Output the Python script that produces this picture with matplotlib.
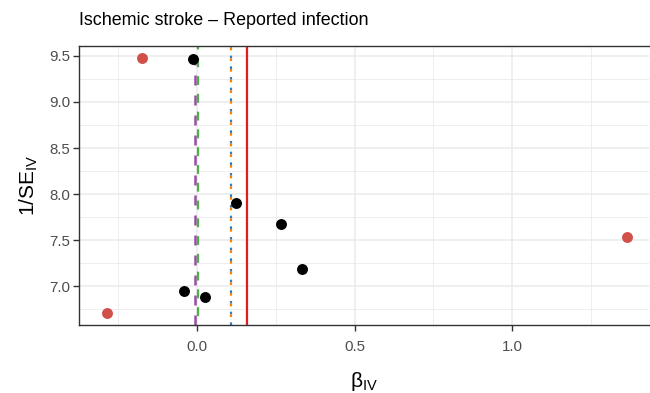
import numpy as np
import matplotlib
matplotlib.use("Agg")
from matplotlib import pyplot as plt
from matplotlib.ticker import MultipleLocator, FormatStrFormatter

plt.rcParams['font.family'] = ['Liberation Sans', 'DejaVu Sans']
plt.rcParams['mathtext.fontset'] = 'custom'
plt.rcParams['mathtext.rm'] = 'Liberation Sans'

# SNP estimates
beta_black = [-0.013, 0.123, 0.266, 0.332, -0.041, 0.025]
inv_se_black = [9.46, 7.90, 7.68, 7.185, 6.95, 6.89]
# outliers
beta_red = [-0.174, -0.285, 1.364]
inv_se_red = [9.48, 6.71, 7.54]

# method estimates (vertical lines)
est_ivw = 0.158
est_dotted = 0.108
est_purple = -0.006
est_green = 0.003

title = "Ischemic stroke \u2013 Reported infection"

fig = plt.figure(figsize=(6.5, 3.93), dpi=100)
ax = fig.add_axes([0.1215, 0.1743, 0.8775, 0.7097])

ax.set_xlim(-0.373, 1.434)
ax.set_ylim(6.587, 9.61)

ax.xaxis.set_major_locator(MultipleLocator(0.5))
ax.xaxis.set_minor_locator(MultipleLocator(0.25))
ax.yaxis.set_major_locator(MultipleLocator(0.5))
ax.yaxis.set_minor_locator(MultipleLocator(0.25))
ax.grid(which='major', color='#ebebeb', linewidth=1.1, zorder=0)
ax.grid(which='minor', color='#ebebeb', linewidth=0.6, zorder=0)
ax.set_axisbelow(True)

ax.axvline(est_ivw, color='#e41a1c', linewidth=1.6, zorder=2)
ax.axvline(est_dotted, color='#377eb8', linewidth=1.6, linestyle=(0, (1.2, 3.6)), zorder=2)
ax.axvline(est_dotted, color='#ff7f00', linewidth=1.6, linestyle=(1.2, (1.2, 3.6)), zorder=2)
ax.axvline(est_purple, color='#984ea3', linewidth=1.8, linestyle=(0, (4, 4)), zorder=2)
ax.axvline(est_green, color='#4daf4a', linewidth=1.6, linestyle=(4, (4, 4)), zorder=2)

ax.scatter(beta_black, inv_se_black, s=62, color='black', linewidths=0, zorder=3)
ax.scatter(beta_red, inv_se_red, s=62, color='#d1504a', linewidths=0, zorder=3)

for sp in ax.spines.values():
    sp.set_color('#333333')
    sp.set_linewidth(1.0)
ax.spines['right'].set_visible(False)
ax.tick_params(which='major', length=4, width=1.0, color='#333333',
               labelcolor='#4d4d4d', labelsize=10.8)
ax.tick_params(axis='x', which='major', pad=7.5)
ax.tick_params(axis='y', which='major', pad=2.5)
ax.tick_params(which='minor', length=0)
ax.xaxis.set_major_formatter(FormatStrFormatter('%.1f'))
ax.yaxis.set_major_formatter(FormatStrFormatter('%.1f'))

ax.set_xlabel('\u03b2$_{\\mathrm{IV}}$', fontsize=15, labelpad=11)
ax.set_ylabel('1/SE$_{\\mathrm{IV}}$', fontsize=15, labelpad=6.5)
ax.set_title(title, loc='left', fontsize=12.9, pad=15)

fig.savefig('out.png', dpi=100)
